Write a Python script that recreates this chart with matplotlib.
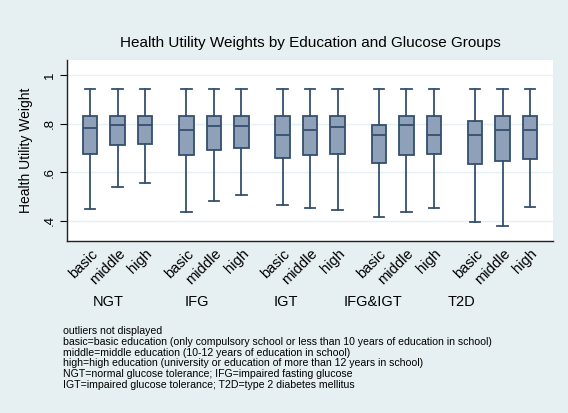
import matplotlib
matplotlib.use("Agg")
import matplotlib.pyplot as plt

plt.rcParams['font.family'] = ['Liberation Sans', 'DejaVu Sans']

groups = ["NGT", "IFG", "IGT", "IFG&IGT", "T2D"]
edu = ["basic", "middle", "high"]

# per box, in order group x education
whislo = [0.447, 0.539, 0.555, 0.435, 0.483, 0.506, 0.464, 0.453, 0.443,
          0.416, 0.435, 0.453, 0.394, 0.376, 0.457]
q1 = [0.674, 0.713, 0.717, 0.669, 0.689, 0.700, 0.658, 0.670, 0.674,
      0.638, 0.670, 0.673, 0.633, 0.645, 0.654]
med = [0.783, 0.795, 0.795, 0.773, 0.791, 0.788, 0.754, 0.772, 0.787,
       0.753, 0.793, 0.753, 0.753, 0.772, 0.772]
q3 = [0.832, 0.832, 0.832, 0.832, 0.832, 0.832, 0.832, 0.832, 0.832,
      0.795, 0.832, 0.832, 0.809, 0.832, 0.832]
whishi = [0.942] * 15

notes = ["outliers not displayed",
         "basic=basic education (only compulsory school or less than 10 years of education in school)",
         "middle=middle education (10-12 years of education in school)",
         "high=high education (university or education of more than 12 years in school)",
         "NGT=normal glucose tolerance; IFG=impaired fasting glucose",
         "IGT=impaired glucose tolerance; T2D=type 2 diabetes mellitus"]

bg = "#e6eff2"
edge = "#34506e"
fill = "#8fa1b9"

fig = plt.figure(figsize=(5.68, 4.13), dpi=100, facecolor=bg)
ax = fig.add_axes([0.118, 0.416, 0.856, 0.439])
ax.set_facecolor("white")

stats = []
positions = []
labels = []
for gi, g in enumerate(groups):
    for ei, e in enumerate(edu):
        i = gi * 3 + ei
        stats.append(dict(whislo=whislo[i], q1=q1[i], med=med[i], q3=q3[i],
                          whishi=whishi[i], fliers=[]))
        positions.append(gi * 3.5 + ei)
        labels.append(e)

ax.bxp(stats, positions=positions, widths=0.52, capwidths=0.38, patch_artist=True,
       showfliers=False,
       boxprops=dict(facecolor=fill, edgecolor=edge, linewidth=1.3),
       medianprops=dict(color=edge, linewidth=1.3),
       whiskerprops=dict(color=edge, linewidth=1.3),
       capprops=dict(color=edge, linewidth=1.3))

ax.set_xlim(-0.84, 16.84)
ax.set_ylim(0.3155, 1.062)
ax.set_yticks([0.4, 0.6, 0.8, 1.0])
ax.set_yticklabels([".4", ".6", ".8", "1"], rotation=90, va="center", fontsize=9.5)
ax.yaxis.grid(True, color=bg, linewidth=1.0)
ax.set_axisbelow(True)
ax.set_xticks(positions)
ax.set_xticklabels(labels, rotation=45, ha="right", va="top", rotation_mode="anchor",
                   fontsize=10.5)
ax.tick_params(axis="x", length=0, pad=4)
ax.tick_params(axis="y", length=5, width=0.8, pad=3)
for s in ["top", "right"]:
    ax.spines[s].set_visible(False)
for s in ["left", "bottom"]:
    ax.spines[s].set_linewidth(1.0)
    ax.spines[s].set_color("#222222")

ax.set_ylabel("Health Utility Weight", fontsize=10, labelpad=8)
ax.set_title("Health Utility Weights by Education and Glucose Groups", fontsize=11, pad=9)

gx = [0.084, 0.267, 0.451, 0.630, 0.811]
for x, g in zip(gx, groups):
    ax.text(x, -0.335, g, transform=ax.transAxes, ha="center", va="center", fontsize=10.5)

fig.text(63 / 568, 1 - 326 / 413, "\n".join(notes), ha="left", va="top",
         fontsize=7.6, linespacing=1.1)

fig.savefig("out.png", dpi=100, facecolor=bg)
